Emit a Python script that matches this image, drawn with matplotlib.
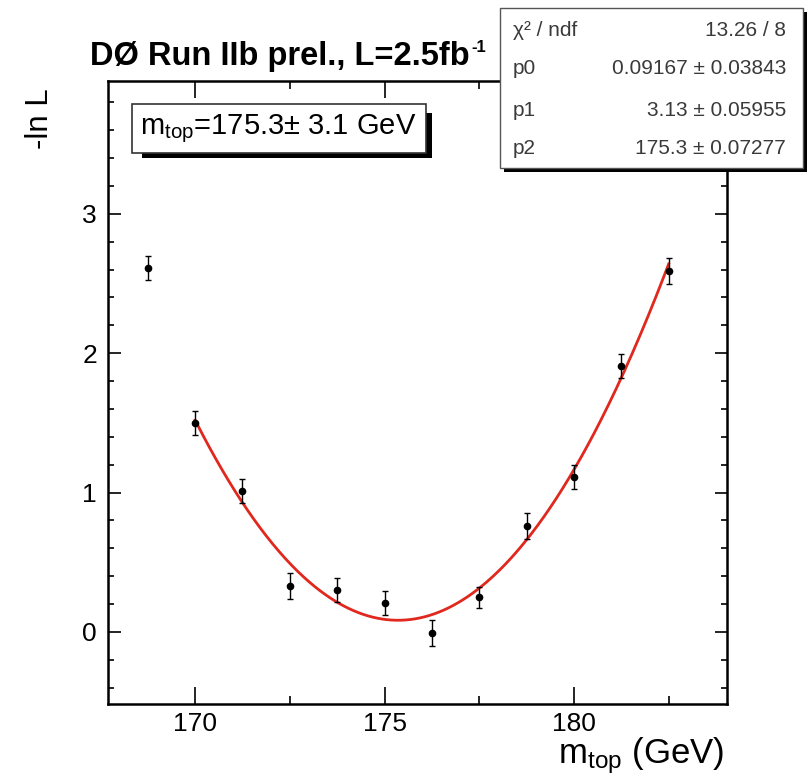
import numpy as np
import matplotlib
matplotlib.use("Agg")
import matplotlib.pyplot as plt
from matplotlib.patches import Rectangle
from matplotlib.ticker import MultipleLocator

plt.rcParams['font.family'] = ['Liberation Sans', 'DejaVu Sans']
plt.rcParams['mathtext.fontset'] = 'custom'
plt.rcParams['mathtext.rm'] = 'Liberation Sans'
plt.rcParams['mathtext.it'] = 'Liberation Sans:italic'
plt.rcParams['mathtext.bf'] = 'Liberation Sans:bold'

# data
mass = [168.75, 170.0, 171.25, 172.5, 173.75, 175.0, 176.25, 177.5, 178.75, 180.0, 181.25, 182.5]
nll = [2.61, 1.50, 1.01, 0.33, 0.30, 0.21, -0.005, 0.25, 0.76, 1.11, 1.91, 2.59]
nll_err = [0.087, 0.084, 0.087, 0.09, 0.086, 0.087, 0.093, 0.075, 0.09, 0.085, 0.085, 0.093]

# fit range and stats box text
fit_lo, fit_hi = 170.0, 182.5
stat_labels = ['χ² / ndf', 'p0', 'p1', 'p2']
stat_values = ['13.26 / 8', '0.09167 ± 0.03843', '3.13 ± 0.05955', '175.3 ± 0.07277']

W, H = 810, 780
fig = plt.figure(figsize=(W / 100, H / 100), dpi=100)


def fx(px):
    return px / W


def fy(py):
    return 1 - py / H


ax = fig.add_axes([fx(108), fy(704), fx(727) - fx(108), fy(80.5) - fy(704)])
ax.set_xlim(167.7, 184.04)
ax.set_ylim(-0.517, 3.957)

# parabola fitted to the points inside the fit range
m = np.array(mass)
v = np.array(nll)
e = np.array(nll_err)
sel = (m >= fit_lo) & (m <= fit_hi)
coef = np.polyfit(m[sel], v[sel], 2, w=1 / e[sel])
xf = np.linspace(fit_lo, fit_hi, 300)
ax.plot(xf, np.polyval(coef, xf), color='#e0281e', lw=2.0, zorder=2)
ax.errorbar(mass, nll, yerr=nll_err, fmt='o', color='black', ms=4.5,
            elinewidth=1.0, capsize=2.5, capthick=1.0, zorder=3)

ax.xaxis.set_major_locator(MultipleLocator(5))
ax.xaxis.set_minor_locator(MultipleLocator(2.5))
ax.yaxis.set_major_locator(MultipleLocator(1))
ax.yaxis.set_minor_locator(MultipleLocator(0.2))
ax.tick_params(which='both', direction='in', top=True, right=True, width=1.2, labelsize=19, colors='black')
ax.tick_params(axis='x', which='major', length=12, pad=6)
ax.tick_params(axis='x', which='minor', length=6)
ax.tick_params(axis='y', which='major', length=9, pad=8)
ax.tick_params(axis='y', which='minor', length=4.5)
for s in ax.spines.values():
    s.set_linewidth(1.8)

# titles and axis labels
fig.text(fx(90), fy(65), 'DØ Run IIb prel., L=2.5fb', fontsize=23.5, fontweight='bold',
         ha='left', va='baseline')
fig.text(fx(471), fy(52), '-1', fontsize=12, fontweight='bold', ha='left', va='baseline')
fig.text(fx(40), fy(88), '-ln L', fontsize=22.5, rotation=90, ha='center', va='top')
fig.text(fx(724), fy(763), 'm$_{\\mathrm{top}}$ (GeV)', fontsize=25, ha='right', va='baseline')

# m_top result box with shadow
fig.patches.append(Rectangle((fx(142), fy(158)), fx(432) - fx(142), fy(113) - fy(158),
                             transform=fig.transFigure, facecolor='black', edgecolor='none', zorder=5))
fig.patches.append(Rectangle((fx(132), fy(153)), fx(426) - fx(132), fy(104) - fy(153),
                             transform=fig.transFigure, facecolor='white', edgecolor='#333333',
                             lw=1.2, zorder=6))
fig.text(fx(140), fy(134), 'm$_{\\mathrm{top}}$=175.3± 3.1 GeV', fontsize=21,
         ha='left', va='baseline', zorder=7)

# stats box with shadow
fig.patches.append(Rectangle((fx(504), fy(172)), fx(807) - fx(504), fy(12) - fy(172),
                             transform=fig.transFigure, facecolor='black', edgecolor='none', zorder=5))
fig.patches.append(Rectangle((fx(500), fy(168)), fx(803) - fx(500), fy(8) - fy(168),
                             transform=fig.transFigure, facecolor='white', edgecolor='#555555',
                             lw=1.0, zorder=6))
row_y = [30, 69, 110, 149]
for lab, val, ry in zip(stat_labels, stat_values, row_y):
    fig.text(fx(513), fy(ry), lab, fontsize=15, color='#3a3a3a', ha='left', va='center', zorder=7)
    fig.text(fx(786), fy(ry), val, fontsize=15, color='#3a3a3a', ha='right', va='center', zorder=7)

fig.savefig('out.png', dpi=100)
